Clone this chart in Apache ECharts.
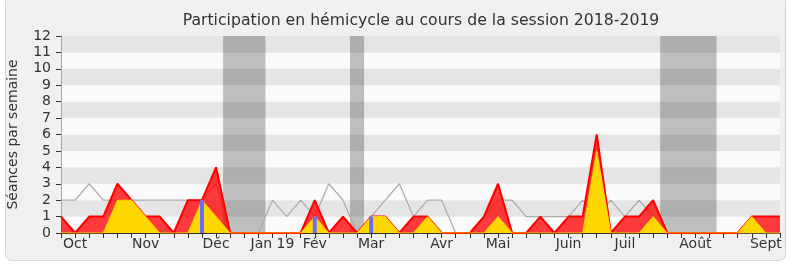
<!DOCTYPE html>
<html><head><meta charset="utf-8">
<script src="https://cdn.jsdelivr.net/npm/echarts@6/dist/echarts.min.js"></script>
<style>html,body{margin:0;padding:0;background:#fff}#c{width:790px;height:267px}</style>
</head><body><div id="c"></div>
<script>
// Weekly values, week 0 .. week 51 of the 2018-2019 session
const seancesTotal = [1,0,1,1,3,2,1,1,0,2,2,4,0,0,0,0,0,0,2,0,1,0,1,1,0,1,1,0,0,0,1,3,0,0,1,0,1,1,6,0,1,1,2,0,0,0,0,0,0,1,1,1];
const seancesCommission = [0,0,0,0,2,2,1,0,0,0,2,1,0,0,0,0,0,0,1,0,0,0,1,1,0,0,1,0,0,0,0,1,0,0,0,0,0,0,5,0,0,0,1,0,0,0,0,0,0,1,0,0];
const medianeDeputes = [2,2,3,2,2,2,2,2,2,2,2,3,0,0,0,2,1,2,1,3,2,0,1,2,3,1,2,2,0,0,1,2,2,1,1,1,1,2,1,2,1,2,1,0,0,0,0,0,0,0,0,0];
const questionWeeks = [10,18,22];
const questionValues = [2,1,1];
// Parliamentary breaks (first week, last week)
const breakStart = [12,21,43];
const breakEnd = [14,21,46];
// Month tick labels
const monthTickWeeks = [1,6,11,15,18,22,27,31,36,40,45,50];
const monthNames = ['Oct','Nov','Déc','Jan 19','Fév','Mar','Avr','Mai','Juin','Juil','Août','Sept'];

const FONT = 'DejaVu Sans';
const pts = a => a.map((v,i)=>[i,v]);
const labelFor = v => { const k = monthTickWeeks.indexOf(Math.round(v)); return k>=0 ? monthNames[k] : ''; };

const chart = echarts.init(document.getElementById('c'), null, {renderer:'canvas'});
chart.setOption({
  animation:false,
  backgroundColor:'#ffffff',
  graphic:{elements:[{type:'rect', z:-10, silent:true,
    shape:{x:5.5,y:-4.5,width:780,height:265,r:6},
    style:{fill:'#f0f0f0', stroke:'#d6d6d6', lineWidth:1}}]},
  title:{text:'Participation en hémicycle au cours de la session 2018-2019',
    left:416, top:8, textAlign:'center',
    textStyle:{fontFamily:FONT, fontSize:15.7, fontWeight:'normal', color:'#333'}},
  grid:{left:61, right:10, top:36, bottom:34, outerBoundsMode:'none', containLabel:false},
  xAxis:[{type:'value', min:0, max:51, interval:1,
      axisLine:{lineStyle:{color:'#333'}},
      axisTick:{length:5, lineStyle:{color:'#333'}},
      axisLabel:{fontFamily:FONT, fontSize:14, color:'#333', margin:4, formatter:labelFor},
      splitLine:{show:false}},
    {type:'value', position:'top', min:0, max:51, interval:1,
      axisLine:{show:false}, axisTick:{inside:true, length:2, lineStyle:{color:'#222'}},
      axisLabel:{show:false}, splitLine:{show:false}}],
  yAxis:[{type:'value', min:0, max:12, interval:1,
      name:'Séances par semaine', nameLocation:'middle', nameGap:41,
      nameTextStyle:{fontFamily:FONT, fontSize:14, color:'#333'},
      axisLine:{show:true, lineStyle:{color:'#333'}},
      axisTick:{show:true, length:5, lineStyle:{color:'#333'}},
      axisLabel:{fontFamily:FONT, fontSize:14, color:'#333', margin:10},
      splitLine:{show:false},
      splitArea:{show:true, areaStyle:{color:['#fafafa','#e5e5e5']}}},
    {type:'value', position:'right', min:0, max:12, interval:1,
      axisLine:{show:true, lineStyle:{color:'#a8a8a8'}}, axisTick:{show:false},
      axisLabel:{show:false}, splitLine:{show:false}}],
  series:[
    {type:'line', data:pts(medianeDeputes), symbol:'none', z:3,
      lineStyle:{color:'#aaaaaa', width:1.2},
      markArea:{silent:true, z:1, itemStyle:{color:'rgba(0,0,0,0.24)'},
        data:breakStart.map((s,k)=>[{xAxis:s-0.5},{xAxis:breakEnd[k]+0.5}])}},
    {type:'line', data:pts(seancesTotal), symbol:'none', z:4,
      lineStyle:{color:'#ff0000', width:2},
      areaStyle:{color:'#ff0000', opacity:0.77}},
    {type:'line', data:pts(seancesCommission), symbol:'none', z:5,
      lineStyle:{color:'#ffd000', width:1},
      areaStyle:{color:'#ffd700', opacity:1}},
    {type:'bar', data:questionWeeks.map((w,k)=>[w,questionValues[k]]), barWidth:4, z:6,
      itemStyle:{color:'#6b6bff'}}
  ]
});
</script></body></html>
